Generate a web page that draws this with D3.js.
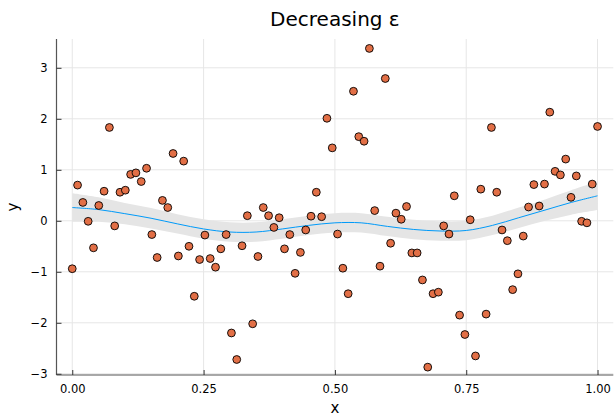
<!DOCTYPE html>
<html><head><meta charset="utf-8">
<script src="https://cdn.jsdelivr.net/npm/d3@7"></script>
<style>html,body{margin:0;padding:0;background:#fff;}svg{display:block;font-family:"DejaVu Sans",sans-serif;}</style>
</head><body><div id="chart"></div>
<script>
const titleText = "Decreasing ε";
const xLabel = "x", yLabel = "y";
const xTicks = [0, 0.25, 0.5, 0.75, 1];
const xTickLabels = ["0.00", "0.25", "0.50", "0.75", "1.00"];
const yTicks = [-3, -2, -1, 0, 1, 2, 3];
const yTickLabels = ["\u22123", "\u22122", "\u22121", "0", "1", "2", "3"];

// observed points (x = i/99)
const pointY = [
 -0.94, 0.70, 0.36, -0.01, -0.53, 0.30, 0.58, 1.83, -0.10, 0.56,
  0.60, 0.91, 0.94, 0.77, 1.03, -0.27, -0.72, 0.40, 0.26, 1.32,
 -0.69, 1.17, -0.50, -1.48, -0.76, -0.28, -0.74, -0.91, -0.55, -0.27,
 -2.20, -2.72, -0.49, 0.10, -2.02, -0.70, 0.26, 0.10, -0.13, 0.06,
 -0.55, -0.27, -1.03, -0.62, -0.18, 0.09, 0.56, 0.08, 2.01, 1.43,
 -0.26, -0.93, -1.43, 2.54, 1.65, 1.56, 3.38, 0.20, -0.89, 2.79,
 -0.44, 0.15, 0.03, 0.28, -0.63, -0.63, -1.16, -2.87, -1.43, -1.40,
 -0.10, -0.26, 0.49, -1.85, -2.23, 0.02, -2.65, 0.62, -1.83, 1.83,
  0.56, -0.18, -0.39, -1.35, -1.04, -0.30, 0.27, 0.71, 0.29, 0.72,
  2.13, 0.97, 0.90, 1.21, 0.46, 0.88, -0.01, -0.04, 0.72, 1.85
];
const pointX = pointY.map((_, i) => i / 99);

// fitted mean and band half-width, sampled every 0.05
const fitX = [0,0.05,0.1,0.15,0.2,0.25,0.3,0.35,0.4,0.45,0.5,0.55,0.6,0.65,0.7,0.75,0.8,0.85,0.9,0.95,1];
const fitMean = [0.26,0.22,0.14,0.05,-0.06,-0.16,-0.22,-0.22,-0.16,-0.09,-0.04,-0.04,-0.11,-0.17,-0.20,-0.19,-0.09,0.06,0.21,0.36,0.49];
const fitHalf = [0.28,0.24,0.21,0.20,0.19,0.19,0.19,0.19,0.19,0.19,0.19,0.19,0.19,0.19,0.19,0.19,0.19,0.20,0.21,0.24,0.28];

const W = 614, H = 416;
const m = {left: 56.5, right: 613.3, top: 39, bottom: 375};
const svg = d3.select("#chart").append("svg").attr("width", W).attr("height", H);

const x = d3.scaleLinear().domain([-0.03, 1.03]).range([m.left, m.right]);
const y = d3.scaleLinear().domain([-3.024, 3.565]).range([m.bottom, m.top]);

// grid
const grid = svg.append("g").attr("stroke", "#e6e6e6").attr("stroke-width", 1);
grid.selectAll(".gx").data(xTicks).join("line")
  .attr("x1", d => x(d)).attr("x2", d => x(d)).attr("y1", m.top).attr("y2", m.bottom);
grid.selectAll(".gy").data(yTicks).join("line")
  .attr("y1", d => y(d)).attr("y2", d => y(d)).attr("x1", m.left).attr("x2", m.right);

// ribbon
const band = fitX.map((xv, i) => ({x: xv, lo: fitMean[i] - fitHalf[i], hi: fitMean[i] + fitHalf[i], m: fitMean[i]}));
svg.append("path").datum(band)
  .attr("fill", "#e5e5e5")
  .attr("d", d3.area().x(d => x(d.x)).y0(d => y(d.lo)).y1(d => y(d.hi)).curve(d3.curveCatmullRom));
svg.append("path").datum(band)
  .attr("fill", "none").attr("stroke", "#009af9").attr("stroke-width", 1)
  .attr("d", d3.line().x(d => x(d.x)).y(d => y(d.m)).curve(d3.curveCatmullRom));

// points
svg.append("g").selectAll("circle").data(pointY).join("circle")
  .attr("cx", (d, i) => x(pointX[i])).attr("cy", d => y(d)).attr("r", 3.9)
  .attr("fill", "#e26f46").attr("stroke", "#000").attr("stroke-width", 0.9);

// axes
const xAxis = d3.axisBottom(x).tickValues(xTicks).tickFormat((d, i) => xTickLabels[i]).tickSizeInner(-5).tickSizeOuter(0).tickPadding(10);
const gx = svg.append("g").attr("transform", `translate(0,${m.bottom})`).call(xAxis);
gx.select(".domain").attr("d", `M${m.left},0H${m.right}`);
const yAxis = d3.axisLeft(y).tickValues(yTicks).tickFormat((d, i) => yTickLabels[i]).tickSizeInner(-5).tickSizeOuter(0).tickPadding(9);
const gy = svg.append("g").attr("transform", `translate(${m.left},0)`).call(yAxis);
gy.select(".domain").attr("d", `M0,${m.top}V${m.bottom}`);
[gx, gy].forEach(g => {
  g.select(".domain").attr("stroke", "#555").attr("stroke-width", 1.2);
  g.selectAll(".tick line").attr("stroke", "#333").attr("stroke-width", 1);
  g.selectAll(".tick text").attr("font-size", 11.5).attr("fill", "#000").attr("font-family", "DejaVu Sans, sans-serif");
});

// labels
svg.append("text").attr("x", (m.left + m.right) / 2).attr("y", 26).attr("text-anchor", "middle")
  .attr("font-size", 20).text(titleText);
svg.append("text").attr("x", (m.left + m.right) / 2).attr("y", 413).attr("text-anchor", "middle")
  .attr("font-size", 15).text(xLabel);
svg.append("text").attr("transform", `translate(18,${(m.top + m.bottom) / 2}) rotate(-90)`).attr("text-anchor", "middle")
  .attr("font-size", 15).text(yLabel);
</script>
</body></html>
